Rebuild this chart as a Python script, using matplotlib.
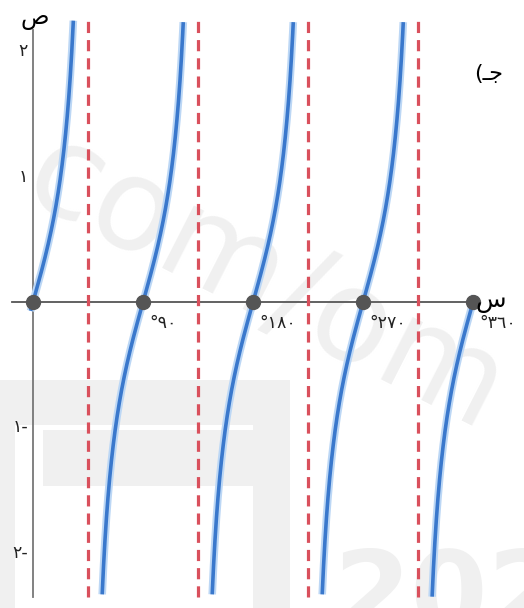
# -*- coding: utf-8 -*-
"""
Graph of y = tan(2x) for 0..360 degrees, with asymptotes and zeros.
"""
import numpy as np
import matplotlib.pyplot as plt
from matplotlib.patches import Rectangle

plt.rcParams['font.family'] = ['DejaVu Sans']

# zeros of the curve and vertical asymptotes (degrees)
zeros_deg = [0, 90, 180, 270, 360]
asymptotes_deg = [45, 135, 225, 315]

# labels
x_tick_pos = [90, 180, 270, 360]
x_tick_labels = ['°٩٠', '°١٨٠', '°٢٧٠', '°٣٦٠']
y_tick_pos = [2, 1, -1, -2]
y_tick_labels = ['٢', '١', '١-', '٢-']

# branch ranges in degrees (first and last are cut at the ends of the axis)
branches = [(-2, 45), (45, 135), (135, 225), (225, 315), (315, 361.5)]

y_top, y_bot = 2.25, -2.35

fig = plt.figure(figsize=(5.24, 6.08), dpi=100)
ax = fig.add_axes([0, 0, 1, 1])
ax.set_xlim(-27, 401.7)
ax.set_ylim(-2.44, 2.41)
ax.axis('off')

# faint background logo
wm = '#f0f0f0'
ax.text(190, 0.14, 'com/om', fontsize=92, color=wm, rotation=-27,
        ha='center', va='center', zorder=0)
ax.add_patch(Rectangle((-27, -2.44), 237, 1.82, color=wm, zorder=0, lw=0))
ax.add_patch(Rectangle((-15, -2.44), 195, 1.46, color='white', zorder=0, lw=0))
ax.add_patch(Rectangle((8, -1.47), 172, 0.45, color=wm, zorder=0, lw=0))
ax.text(246, -2.8, '202', fontsize=80, fontweight='bold', color=wm,
        ha='left', va='bottom', zorder=0)

# axes
ax.plot([-17, 361.5], [0, 0], color='#555555', lw=1.3, zorder=2)
ax.plot([0, 0], [y_bot, 2.17], color='#777777', lw=1.3, zorder=2)

# asymptotes
for a in asymptotes_deg:
    ax.plot([a, a], [y_bot, y_top], color='#d9505c', lw=2.3,
            dashes=(3.5, 2.2), zorder=3)

# curve
for lo, hi in branches:
    x = np.linspace(lo + 0.01, hi - 0.01, 800)
    y = np.tan(np.radians(2 * x))
    y = np.where((y > y_top) | (y < y_bot), np.nan, y)
    ax.plot(x, y, color='#bcd7f5', lw=5.5, solid_capstyle='butt', zorder=4)
    ax.plot(x, y, color='#3a78cc', lw=2.6, solid_capstyle='butt', zorder=5)

ax.plot(zeros_deg, [0] * len(zeros_deg), 'o', color='#555555',
        markersize=10, zorder=6)

# tick labels
for pos, lab in zip(x_tick_pos, x_tick_labels):
    ax.text(pos + 5.5, -0.17, lab, fontsize=12.5, ha='left', va='center',
            color='#222222', zorder=7)
for pos, lab in zip(y_tick_pos, y_tick_labels):
    ax.text(-4, pos, lab, fontsize=12.5, ha='right', va='center',
            color='#222222', zorder=7)

# axis names and part label
ax.text(1.5, 2.27, 'ص', fontsize=17, ha='center', va='center', zorder=7)
ax.text(362, 0.01, 'س', fontsize=18, ha='left', va='center', zorder=7)
ax.text(361, 1.82, '(\u0640\uFE9F', fontsize=16, ha='left', va='center',
        zorder=7)

fig.savefig('out.png', dpi=100)
